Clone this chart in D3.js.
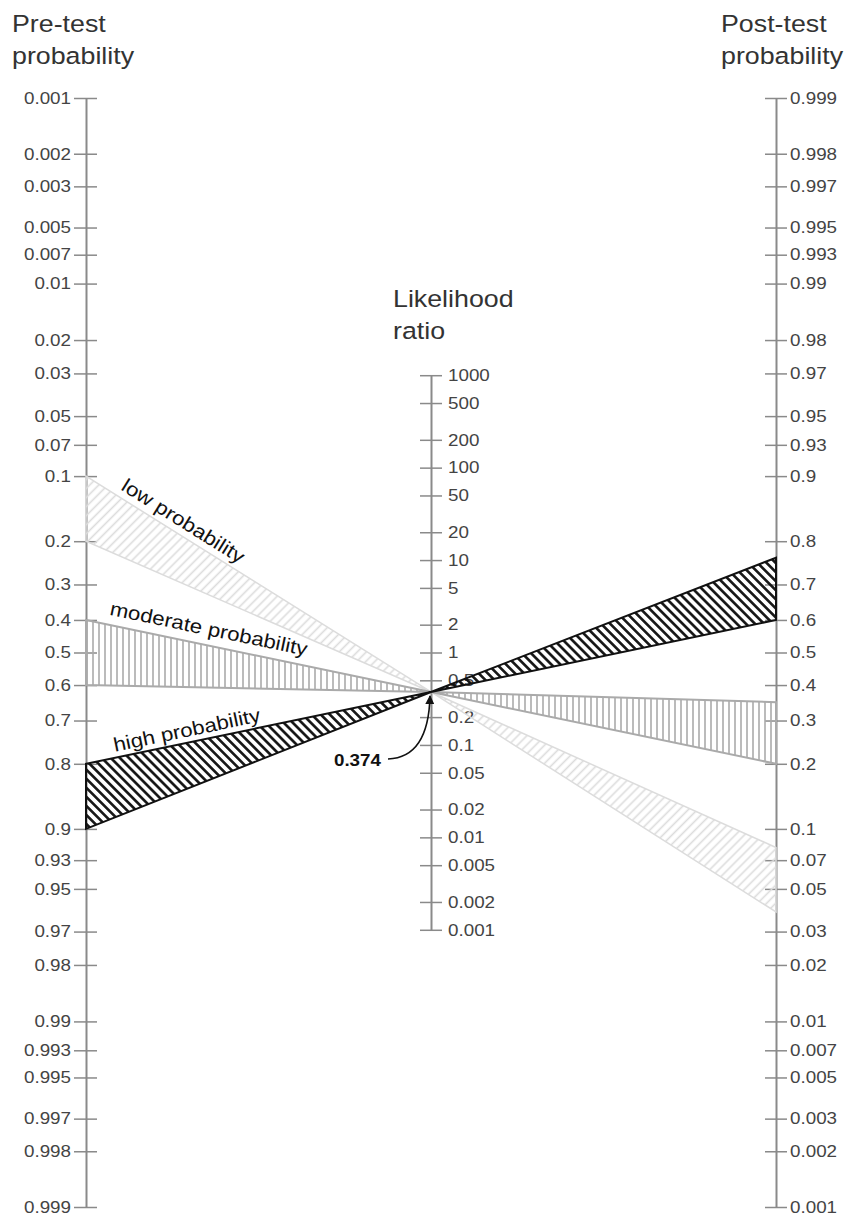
<!DOCTYPE html>
<html>
<head>
<meta charset="utf-8">
<script src="https://cdn.jsdelivr.net/npm/d3@7"></script>
<style>
  body { margin: 0; background: #fff; }
  svg { display: block; }
  text { font-family: "Liberation Sans", Arial, sans-serif; }
</style>
</head>
<body>
<svg id="chart" width="845" height="1217"></svg>
<script>
// tick values on the three scales
const preTicks = [0.001, 0.002, 0.003, 0.005, 0.007, 0.01, 0.02, 0.03, 0.05, 0.07, 0.1, 0.2, 0.3, 0.4, 0.5, 0.6, 0.7, 0.8, 0.9, 0.93, 0.95, 0.97, 0.98, 0.99, 0.993, 0.995, 0.997, 0.998, 0.999];
const postTicks = [0.999, 0.998, 0.997, 0.995, 0.993, 0.99, 0.98, 0.97, 0.95, 0.93, 0.9, 0.8, 0.7, 0.6, 0.5, 0.4, 0.3, 0.2, 0.1, 0.07, 0.05, 0.03, 0.02, 0.01, 0.007, 0.005, 0.003, 0.002, 0.001];
const lrTicks = [1000, 500, 200, 100, 50, 20, 10, 5, 2, 1, 0.5, 0.2, 0.1, 0.05, 0.02, 0.01, 0.005, 0.002, 0.001];

// the three example bands
const bandNames = ["low probability", "moderate probability", "high probability"];
const preTest = [[0.1, 0.2], [0.4, 0.6], [0.8, 0.9]];
const postTest = [[0.081, 0.038], [0.35, 0.2], [0.765, 0.6]];
const likelihoodRatio = 0.374;

const svg = d3.select("#chart");
const SX = 1.14; // the reference text is a bit wide

const logit = p => Math.log(p / (1 - p));
const xPre = 86, xLR = 431, xPost = 776;
const yTop = 98, yBottom = 1207;
const yMid = (yTop + yBottom) / 2;
const k = (yBottom - yTop) / (2 * logit(0.999));

const yPre = d3.scaleLinear().domain([logit(0.001), logit(0.999)]).range([yTop, yBottom]);
const yPost = d3.scaleLinear().domain([logit(0.999), logit(0.001)]).range([yTop, yBottom]);
// LR scale is half the logit scale so lines through it are straight
const yLR = d3.scaleLog().domain([1000, 0.001])
  .range([yMid - Math.log(1000) * k / 2, yMid + Math.log(1000) * k / 2]);

// patterns
const defs = svg.append("defs");
function hatch(id, angle, gap, color, width) {
  const p = defs.append("pattern")
    .attr("id", id)
    .attr("patternUnits", "userSpaceOnUse")
    .attr("width", gap).attr("height", 20)
    .attr("patternTransform", `rotate(${angle})`);
  p.append("line")
    .attr("x1", gap / 2).attr("x2", gap / 2)
    .attr("y1", 0).attr("y2", 20)
    .attr("stroke", color).attr("stroke-width", width);
}
hatch("hLow", 45, 6.4, "#dcdcdc", 1.6);
hatch("hMod", 0, 6, "#aaaaaa", 1.6);
hatch("hHigh", -45, 6.4, "#111", 2.6);
const bandStyle = [
  { fill: "url(#hLow)", stroke: "#dcdcdc", sw: 1.5 },
  { fill: "url(#hMod)", stroke: "#aaaaaa", sw: 2 },
  { fill: "url(#hHigh)", stroke: "#111", sw: 2 }
];

function styleAxis(g, textX, anchor) {
  g.attr("font-size", null).attr("font-family", null);
  g.select(".domain").attr("stroke", "#8a8a8a").attr("stroke-width", 2);
  g.selectAll(".tick line").attr("stroke", "#8a8a8a").attr("stroke-width", 1.5);
  g.selectAll(".tick text")
    .attr("fill", "#444")
    .style("font-size", "16.5px")
    .attr("x", textX / SX)
    .attr("text-anchor", anchor)
    .attr("transform", `scale(${SX},1)`);
}

// pre-test axis
svg.append("g")
  .attr("transform", `translate(${xPre},0)`)
  .call(d3.axisLeft(yPre).tickValues(preTicks.map(logit))
    .tickFormat((d, i) => String(preTicks[i])).tickSize(0).tickSizeOuter(0))
  .call(g => g.selectAll(".tick line").attr("x1", -12).attr("x2", 11))
  .call(g => styleAxis(g, -15, "end"));

// post-test axis
svg.append("g")
  .attr("transform", `translate(${xPost},0)`)
  .call(d3.axisRight(yPost).tickValues(postTicks.map(logit))
    .tickFormat((d, i) => String(postTicks[i])).tickSize(0).tickSizeOuter(0))
  .call(g => g.selectAll(".tick line").attr("x1", -11).attr("x2", 11))
  .call(g => styleAxis(g, 14, "start"));

// likelihood ratio axis
svg.append("g")
  .attr("transform", `translate(${xLR},0)`)
  .call(d3.axisRight(yLR).tickValues(lrTicks)
    .tickFormat(d => String(d)).tickSize(0).tickSizeOuter(0))
  .call(g => g.selectAll(".tick line").attr("x1", -11).attr("x2", 11))
  .call(g => styleAxis(g, 17, "start"));

// titles
function title(lines, x, y0) {
  lines.forEach((t, i) => {
    svg.append("text")
      .attr("transform", `translate(${x},${y0 + i * 32}) scale(${SX},1)`)
      .attr("fill", "#333")
      .style("font-size", "23.5px")
      .text(t);
  });
}
title(["Pre-test", "probability"], 12, 32);
title(["Post-test", "probability"], 721, 32);
title(["Likelihood", "ratio"], 393, 307);

// bands: left triangle to the pivot, right triangle from it
const yPivot = yLR(likelihoodRatio);
const bandG = svg.append("g");
preTest.forEach((pre, i) => {
  const s = bandStyle[i];
  const left = [[xPre, yPre(logit(pre[0]))], [xPre, yPre(logit(pre[1]))], [xLR, yPivot]];
  const right = [[xLR, yPivot], [xPost, yPost(logit(postTest[i][1]))], [xPost, yPost(logit(postTest[i][0]))]];
  [left, right].forEach(pts => {
    bandG.append("path")
      .attr("d", "M" + pts.map(p => p.join(",")).join("L") + "Z")
      .attr("fill", s.fill)
      .attr("stroke", s.stroke)
      .attr("stroke-width", s.sw)
      .attr("stroke-linejoin", "miter");
  });
});

// band labels along the upper edge
const labelStart = [120, 109, 115];
const labelLift = [8, 10, 6];
bandNames.forEach((name, i) => {
  const y1 = yPre(logit(preTest[i][0]));
  const slope = (yPivot - y1) / (xLR - xPre);
  const ang = Math.atan(slope) * 180 / Math.PI;
  const x = labelStart[i];
  const y = y1 + slope * (x - xPre) - labelLift[i];
  svg.append("text")
    .attr("transform", `translate(${x},${y}) rotate(${ang}) scale(${SX},1)`)
    .attr("fill", "#111")
    .style("font-size", "19.5px")
    .text(name);
});

// LR annotation with curved arrow
defs.append("marker")
  .attr("id", "arrow")
  .attr("viewBox", "0 0 10 10")
  .attr("refX", 9).attr("refY", 5)
  .attr("markerWidth", 9).attr("markerHeight", 9)
  .attr("markerUnits", "userSpaceOnUse")
  .attr("orient", "auto")
  .append("path").attr("d", "M0,0L10,5L0,10Z").attr("fill", "#111");

svg.append("path")
  .attr("d", `M388,759 C414,758 429,738 ${xLR - 1},${yPivot + 4}`)
  .attr("fill", "none")
  .attr("stroke", "#111")
  .attr("stroke-width", 1.6)
  .attr("marker-end", "url(#arrow)");

svg.append("text")
  .attr("transform", `translate(381,766) scale(${SX},1)`)
  .attr("text-anchor", "end")
  .attr("fill", "#111")
  .style("font-size", "16.5px")
  .style("font-weight", "bold")
  .text(String(likelihoodRatio));
</script>
</body>
</html>
